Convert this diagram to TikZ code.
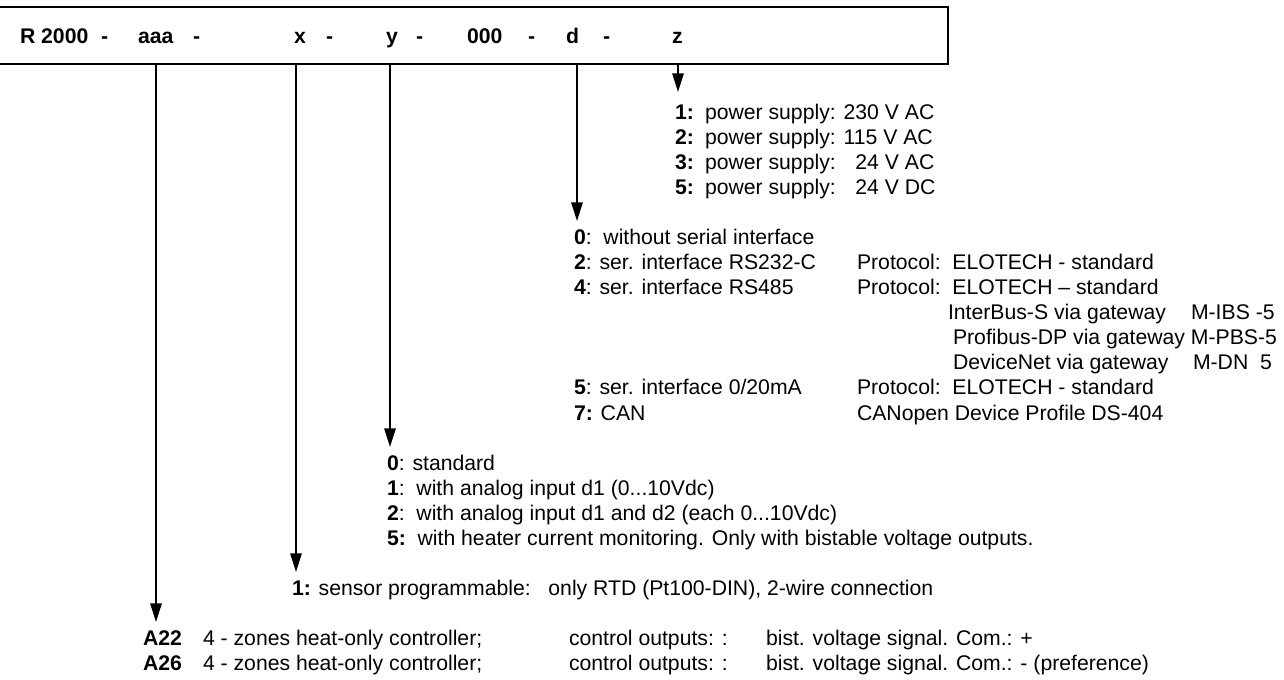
\documentclass[tikz,border=0pt]{standalone}
\usepackage{fontspec}
\setmainfont{Liberation Sans}
\usetikzlibrary{arrows.meta}

\begin{document}
\begin{tikzpicture}[x=0.75pt,y=-0.75pt,>={Triangle[length=14pt,width=8.5pt]},line width=1.5pt]
			\tikzset{
				head/.style={anchor=base west, inner sep=0pt, font=\fontsize{15.9}{18}\selectfont\bfseries},
				txt/.style={anchor=base west, inner sep=0pt, font=\fontsize{15.9}{18}\selectfont},
				lead/.style={->}
			}
			\useasboundingbox (0,0) rectangle (1284,680);

			% type code box
			\draw (-10,7) rectangle (948,64);
			\node (fR)   [head] at (19,43.5)  {R 2000};
			\node (dR)   [head] at (100,43.5) {-};
			\node (faaa) [head] at (137,43.5) {aaa};
			\node (daaa) [head] at (192,43.5) {-};
			\node (fx)   [head] at (293,43.5) {x};
			\node (dx)   [head] at (325,43.5) {-};
			\node (fy)   [head] at (385,43.5) {y};
			\node (dy)   [head] at (415,43.5) {-};
			\node (f000) [head] at (466,43.5) {000};
			\node (d000) [head] at (527,43.5) {-};
			\node (fd)   [head] at (565,43.5) {d};
			\node (dd)   [head] at (602,43.5) {-};
			\node (fz)   [head] at (671,43.5) {z};

			% leads
			\coordinate (saaa) at (156,64);  \coordinate (eaaa) at (156,622);
			\coordinate (sx)   at (296,64);  \coordinate (ex)   at (296,572);
			\coordinate (sy)   at (390,64);  \coordinate (ey)   at (390,447);
			\coordinate (sd)   at (577,64);  \coordinate (ed)   at (577,221);
			\coordinate (sz)   at (678,64);  \coordinate (ez)   at (678,92);
			\draw[lead] (saaa) -- (eaaa);
			\draw[lead] (sx) -- (ex);
			\draw[lead] (sy) -- (ey);
			\draw[lead] (sd) -- (ed);
			\draw[lead] (sz) -- (ez);

			% z: power supply
			\node (z1) [txt] at (674,119.5) {\makebox[22.5pt][l]{\textbf{1:}}power supply: 230 V AC};
			\node (z2) [txt] at (674,144.5) {\makebox[22.5pt][l]{\textbf{2:}}power supply: 115 V AC};
			\node (z3) [txt] at (674,169.6) {\makebox[22.5pt][l]{\textbf{3:}}power supply: \phantom{2}24 V AC};
			\node (z5) [txt] at (674,194.7) {\makebox[22.5pt][l]{\textbf{5:}}power supply: \phantom{2}24 V DC};

			% d: serial interface
			\node (d0) [txt] at (573,244.8) {\textbf{0}:\ \ without serial interface};
			\node (d2) [txt] at (573,269.8) {\textbf{2}: ser. interface RS232-C};
			\node (d4) [txt] at (573,294.9) {\textbf{4}: ser. interface RS485};
			\node (d5) [txt] at (573,395)   {\textbf{5}: ser. interface 0/20mA};
			\node (d7) [txt] at (573,420.1) {\textbf{7:} CAN};
			\node (p2) [txt] at (856,269.8) {Protocol:\ \ ELOTECH - standard};
			\node (p4) [txt] at (856,294.9) {Protocol:\ \ ELOTECH – standard};
			\node (p5) [txt] at (856,395)   {Protocol:\ \ ELOTECH - standard};
			\node (p7) [txt] at (856,420.1) {CANopen Device Profile DS-404};
			\node (gibs) [txt] at (947,319.9)  {InterBus-S via gateway};
			\node (mibs) [txt] at (1190,319.9) {M-IBS -5};
			\node (gpbs) [txt] at (952,345)    {Profibus-DP via gateway M-PBS-5};
			\node (gdn)  [txt] at (952,370)    {DeviceNet via gateway};
			\node (mdn)  [txt] at (1192,370)   {M-DN\ \ 5};

			% y: analog inputs
			\node (y0) [txt] at (386,470.2) {\textbf{0}: standard};
			\node (y1) [txt] at (386,495.3) {\textbf{1}:\ \ with analog input d1 (0...10Vdc)};
			\node (y2) [txt] at (386,520.3) {\textbf{2}:\ \ with analog input d1 and d2 (each 0...10Vdc)};
			\node (y5) [txt] at (386,545.4) {\textbf{5:}\ \ with heater current monitoring. Only with bistable voltage outputs.};

			% x: sensor
			\node (x1) [txt] at (291,595.5) {\textbf{1:} sensor programmable:\ \ \ only RTD (Pt100-DIN), 2-wire connection};

			% aaa: controller type
			\node (a22)  [txt] at (142,645.6) {\textbf{A22}};
			\node (a22b) [txt] at (202,645.6) {4 - zones heat-only controller;};
			\node (a22c) [txt] at (568,645.6) {control outputs: :};
			\node (a22d) [txt] at (765,645.6) {bist. voltage signal. Com.: +};
			\node (a26)  [txt] at (142,670.6) {\textbf{A26}};
			\node (a26b) [txt] at (202,670.6) {4 - zones heat-only controller;};
			\node (a26c) [txt] at (568,670.6) {control outputs: :};
			\node (a26d) [txt] at (765,670.6) {bist. voltage signal. Com.: - (preference)};
		\end{tikzpicture}
\end{document}
